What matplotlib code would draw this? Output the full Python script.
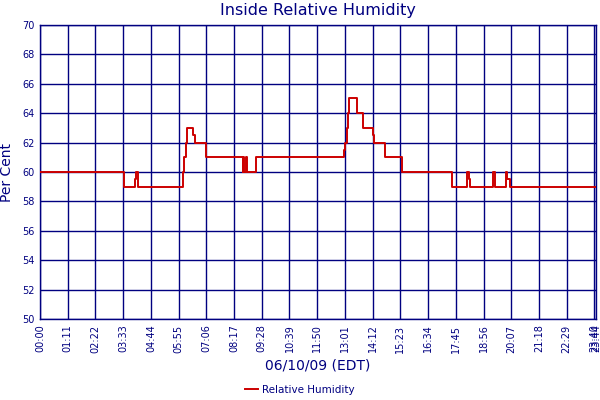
import matplotlib
matplotlib.use("Agg")
import matplotlib.pyplot as plt

# Data: step changes (time HH:MM, relative humidity %)
times = ["00:00", "03:36", "04:03", "04:05", "04:12", "06:07", "06:10", "06:13",
         "06:16", "06:33", "06:36", "07:04", "08:39", "08:41", "08:43", "08:47",
         "08:49", "09:13", "12:59", "13:01", "13:06", "13:10", "13:12", "13:33",
         "13:48", "14:12", "14:15", "14:44", "15:26", "17:34", "18:13", "18:18",
         "18:21", "19:21", "19:26", "19:54", "19:56", "20:04", "23:44"]
humidity = [60, 59, 59.5, 60, 59, 60, 61, 62,
            63, 62.5, 62, 61, 60, 61, 60, 61,
            60, 61, 61.5, 62, 63, 64, 65, 64,
            63, 62.5, 62, 61, 60, 59, 60, 59.5,
            59, 60, 59, 60, 59.5, 59, 59]

tick_labels = ["00:00", "01:11", "02:22", "03:33", "04:44", "05:55", "07:06",
               "08:17", "09:28", "10:39", "11:50", "13:01", "14:12", "15:23",
               "16:34", "17:45", "18:56", "20:07", "21:18", "22:29", "23:40",
               "23:44"]
y_ticks = list(range(50, 71, 2))

navy = "#000080"
red = "#CC0000"

def to_min(s):
    h, m = s.split(":")
    return int(h) * 60 + int(m)

x = [to_min(t) for t in times]
xt = [to_min(t) for t in tick_labels]

fig = plt.figure(figsize=(6, 4), dpi=100)
ax = fig.add_axes([40/600, 1 - 319/400, 556/600, 294/400])

line, = ax.step(x, humidity, where="post", color=red, lw=1.4,
                label="Relative Humidity", zorder=3)

ax.set_xlim(0, 1424)
ax.set_ylim(50, 70)
ax.set_xticks(xt)
ax.set_xticklabels(tick_labels, rotation=90, fontsize=7, color=navy)
ax.set_yticks(y_ticks)
ax.set_yticklabels([str(v) for v in y_ticks], fontsize=7, color=navy)
ax.tick_params(length=0, pad=4)
ax.grid(True, color=navy, lw=1.0, zorder=1)
ax.set_axisbelow(True)
for s in ax.spines.values():
    s.set_color(navy)
    s.set_linewidth(1.0)

ax.set_title("Inside Relative Humidity", fontsize=11.5, color=navy, pad=7)
ax.set_ylabel("Per Cent", fontsize=10, color=navy, labelpad=6)
ax.set_xlabel("06/10/09 (EDT)", fontsize=10, color=navy, labelpad=4)

fig.legend(handles=[line], loc="center", bbox_to_anchor=(300/600, 1 - 390/400),
           frameon=False, fontsize=7.5, labelcolor=navy, handlelength=1.2,
           handletextpad=0.4, borderpad=0)

fig.savefig("out.png", dpi=100)
